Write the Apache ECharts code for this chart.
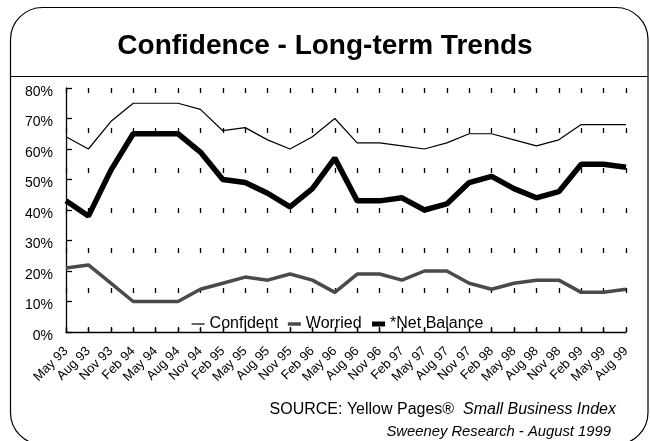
<!DOCTYPE html>
<html>
<head>
<meta charset="utf-8">
<script src="https://cdn.jsdelivr.net/npm/echarts@6/dist/echarts.min.js"></script>
<style>
html,body{margin:0;padding:0;background:#fff;}
#chart{width:650px;height:441px;}
</style>
</head>
<body>
<div id="chart"></div>
<script>
var titleText = 'Confidence - Long-term Trends';
var sourceLine1 = 'SOURCE: Yellow Pages®';
var sourceLine1b = 'Small Business Index';
var sourceLine2 = 'Sweeney Research - August 1999';

var categories = ['May 93','Aug 93','Nov 93','Feb 94','May 94','Aug 94','Nov 94','Feb 95','May 95','Aug 95','Nov 95','Feb 96','May 96','Aug 96','Nov 96','Feb 97','May 97','Aug 97','Nov 97','Feb 98','May 98','Aug 98','Nov 98','Feb 99','May 99','Aug 99'];
var seriesNames = ['Confident','Worried','*Net Balance'];
var confident  = [64,60,69,75,75,75,73,66,67,63,60,64,70,62,62,61,60,62,65,65,63,61,63,68,68,68];
var worried    = [21,22,16,10,10,10,14,16,18,17,19,17,13,19,19,17,20,20,16,14,16,17,17,13,13,14];
var netBalance = [43,38,53,65,65,65,59,50,49,45.5,41,47,57,43,43,44,40,42,49,51,47,44,46,55,55,54];
var yTicks = [0,10,20,30,40,50,60,70,80];

var FONT = '"Liberation Sans", Arial, sans-serif';
var lineColors = ['#000', '#4a4a4a', '#000'];
var lineWidths = [1.2, 3.5, 5.5];

var chart = echarts.init(document.getElementById('chart'), null, {renderer:'canvas'});
chart.setOption({
  animation: false,
  backgroundColor: '#fff',
  textStyle: {fontFamily: FONT, color:'#000'},
  title: [
    {text: titleText, left: 'center', top: 27,
     textStyle: {fontFamily: FONT, fontSize: 28, fontWeight: 'bold', color: '#000'}},
    {text: sourceLine1 + '  {i|' + sourceLine1b + '}', right: 29, top: 397,
     textStyle: {fontFamily: FONT, fontSize: 16, fontWeight: 'normal', color: '#000',
       rich: {i: {fontFamily: FONT, fontSize: 16, fontStyle: 'italic', color: '#000'}}}},
    {text: sourceLine2, right: 34, top: 419,
     textStyle: {fontFamily: FONT, fontSize: 14.8, fontStyle: 'italic', fontWeight: 'normal', color: '#000'}}
  ],
  graphic: [
    {type: 'rect', shape: {x: 10.5, y: 7.5, width: 637.5, height: 437, r: 32},
     style: {fill: 'none', stroke: '#000', lineWidth: 1.2}, silent: true},
    {type: 'line', shape: {x1: 10, y1: 76.5, x2: 648, y2: 76.5},
     style: {stroke: '#000', lineWidth: 1.2}, silent: true}
  ],
  legend: {
    data: seriesNames.map(function (n, i) {
      return {name: n, lineStyle: {width: Math.min(lineWidths[i], 5), color: lineColors[i]}};
    }),
    left: 186, top: 311,
    itemWidth: 13, itemHeight: 10, itemGap: 8,
    itemStyle: {opacity: 0},
    textStyle: {fontFamily: FONT, fontSize: 16, color: '#000'}
  },
  grid: {left: 66, right: 24, top: 88, bottom: 109, containLabel: false},
  xAxis: {
    type: 'category',
    data: categories,
    boundaryGap: false,
    axisLine: {lineStyle: {color: '#000', width: 1.3}},
    axisTick: {inside: true, length: 5, alignWithLabel: true, interval: 0, lineStyle: {color: '#000', width: 1.3}},
    axisLabel: {interval: 0, rotate: 45, margin: 17, fontFamily: FONT, fontSize: 13, color: '#000'},
    splitLine: {show: true, interval: 0, lineStyle: {color: '#000', width: 1.3, type: [5, 35]}}
  },
  yAxis: {
    type: 'value',
    min: yTicks[0], max: yTicks[yTicks.length-1], interval: 10,
    axisLine: {show: true, lineStyle: {color: '#000', width: 1.3}},
    axisTick: {show: true, inside: true, length: 6, lineStyle: {color: '#000', width: 1.3}},
    axisLabel: {formatter: '{value}%', margin: 13, fontFamily: FONT, fontSize: 14, color: '#000',
                verticalAlign: 'top', lineHeight: 8},
    splitLine: {show: false}
  },
  series: [
    {name: seriesNames[0], type: 'line', data: confident, symbol: 'none', z: 3,
     lineStyle: {color: lineColors[0], width: lineWidths[0]}, itemStyle: {color: lineColors[0]}},
    {name: seriesNames[1], type: 'line', data: worried, symbol: 'none', z: 3,
     lineStyle: {color: lineColors[1], width: lineWidths[1]}, itemStyle: {color: lineColors[1]}},
    {name: seriesNames[2], type: 'line', data: netBalance, symbol: 'none', z: 4,
     lineStyle: {color: lineColors[2], width: lineWidths[2]}, itemStyle: {color: lineColors[2]}}
  ]
});
</script>
</body>
</html>
